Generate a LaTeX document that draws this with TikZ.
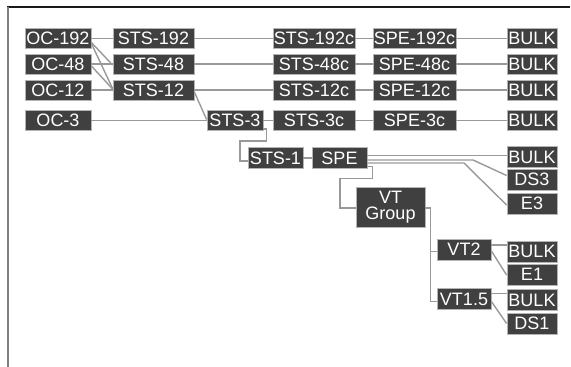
\documentclass[tikz,border=0pt]{standalone}
\usepackage{fontspec}
\setmainfont{Liberation Sans}
\definecolor{boxfill}{HTML}{404040}
\definecolor{boxedge}{HTML}{B4B4B4}
\definecolor{wire}{HTML}{999999}
\definecolor{leftrule}{HTML}{808080}
\definecolor{toprule}{HTML}{1A1A1A}
\tikzset{
  blk/.style={draw=boxedge, fill=boxfill, line width=0.8pt, text=white,
    font=\fontsize{18}{18}\selectfont, inner sep=0pt,
    text height=12.9pt, text depth=0pt, minimum height=20pt},
  blkr/.style={blk, minimum height=21pt},
  grp/.style={draw=boxedge, fill=boxfill, line width=0.8pt, text=white,
    font=\fontsize{18}{16}\selectfont, inner sep=0pt, align=center,
    minimum width=69pt, minimum height=40pt},
  wire/.style={draw=wire, line width=1.4pt},
}
\begin{document}
\begin{tikzpicture}[x=1pt,y=-1pt]
\useasboundingbox (0,0) rectangle (571,367);
% frame
\draw[toprule, line width=1.3pt] (7,7) -- (570,7);
\draw[leftrule, line width=2pt] (7.5,6.5) -- (7.5,367);

% column 1
\node[blk, minimum width=66pt] (oc192) at (58,38.5) {OC-192};
\node[blk, minimum width=66pt] (oc48) at (58,64) {OC-48};
\node[blk, minimum width=66pt] (oc12) at (58,90) {OC-12};
\node[blk, minimum width=66pt] (oc3) at (58,120.5) {OC-3};
% column 2
\node[blk, minimum width=81pt] (sts192) at (153.5,38.5) {STS-192};
\node[blk, minimum width=81pt] (sts48) at (153.5,64) {STS-48};
\node[blk, minimum width=81pt] (sts12) at (153.5,90) {STS-12};
\node[blk, minimum width=56pt] (sts3) at (235,120.5) {STS-3};
% column 3
\node[blk, minimum width=82pt] (sts192c) at (314,38.5) {STS-192c};
\node[blk, minimum width=82pt] (sts48c) at (314,64) {STS-48c};
\node[blk, minimum width=82pt] (sts12c) at (314,90) {STS-12c};
\node[blk, minimum width=82pt] (sts3c) at (314,120.5) {STS-3c};
% column 4
\node[blk, minimum width=83pt] (spe192c) at (414.5,38.5) {SPE-192c};
\node[blk, minimum width=83pt] (spe48c) at (414.5,64) {SPE-48c};
\node[blk, minimum width=83pt] (spe12c) at (414.5,90) {SPE-12c};
\node[blk, minimum width=83pt] (spe3c) at (414.5,120.5) {SPE-3c};
% bulk column
\node[blk, minimum width=50pt] (b1) at (532,38.5) {BULK};
\node[blk, minimum width=50pt] (b2) at (532,64) {BULK};
\node[blk, minimum width=50pt] (b3) at (532,90) {BULK};
\node[blk, minimum width=50pt] (b4) at (532,120.5) {BULK};
% lower part
\node[blkr, minimum width=55pt] (sts1) at (275.5,158) {STS-1};
\node[blkr, minimum width=55pt] (spe) at (339.5,158) {SPE};
\node[blkr, minimum width=50pt] (b5) at (532,157) {BULK};
\node[blkr, minimum width=50pt] (ds3) at (532,179.5) {DS3};
\node[blkr, minimum width=50pt] (e3) at (532,203.5) {E3};
\node[grp] (vtg) at (390.5,207) {VT\\Group};
\node[blkr, minimum width=54pt] (vt2) at (464,249.5) {VT2};
\node[blkr, minimum width=54pt] (vt15) at (464,299) {VT1.5};
\node[blkr, minimum width=50pt] (b6) at (532,251.5) {BULK};
\node[blkr, minimum width=50pt] (e1) at (532,274.5) {E1};
\node[blkr, minimum width=50pt] (b7) at (532,300) {BULK};
\node[blkr, minimum width=50pt] (ds1) at (532,323.5) {DS1};

% connectors: OC -> STS
\draw[wire] (oc192.east) -- (sts192.west);
\draw[wire] ([yshift=-4pt]oc192.east) -- ([yshift=-1pt]sts48.west);
\draw[wire] ([yshift=-5pt]oc192.east) -- ([yshift=1.5pt]sts12.west);
\draw[wire] (oc48.east) -- (sts48.west);
\draw[wire] ([yshift=-2pt]oc48.east) -- ([yshift=1pt]sts12.west);
\draw[wire] (oc12.east) -- (sts12.west);
\draw[wire] (oc3.east) -- (sts3.west);
\draw[wire] ([yshift=-2pt]sts12.east) -- ([yshift=1pt]sts3.west);
% rows
\draw[wire] (sts192.east) -- (sts192c.west);
\draw[wire] (sts48.east) -- (sts48c.west);
\draw[wire] (sts12.east) -- (sts12c.west);
\draw[wire] (sts3.east) -- (sts3c.west);
\draw[wire] (sts192c.east) -- (spe192c.west);
\draw[wire] (sts48c.east) -- (spe48c.west);
\draw[wire] (sts12c.east) -- (spe12c.west);
\draw[wire] (sts3c.east) -- (spe3c.west);
\draw[wire] (spe192c.east) -- (b1.west);
\draw[wire] (spe48c.east) -- (b2.west);
\draw[wire] (spe12c.east) -- (b3.west);
\draw[wire] (spe3c.east) -- (b4.west);
% STS-3 -> STS-1
\draw[wire] ([yshift=-8.5pt]sts3.east) -- ++(3,0) |- (240,141) |- ([yshift=-3pt]sts1.west);
\draw[wire] (sts1.east) -- (spe.west);
% SPE outputs
\draw[wire] ([yshift=2.5pt]spe.east) coordinate (s1) -- (s1 -| b5.west);
\draw[wire] ([yshift=-2pt]spe.east) -- (473,160) -- ([yshift=4pt]ds3.west);
\draw[wire] ([yshift=-5pt]spe.east) -- (464,163) -- ([yshift=-1.5pt]e3.west);
\draw[wire] ([yshift=-8.5pt]spe.east) -- ++(5,0) |- (340,178.5) |- ([yshift=-1pt]vtg.west);
% VT group
\draw[wire] ([yshift=-1pt]vtg.east) -- ++(5,0) coordinate (vj) |- ([yshift=-2pt]vt2.west);
\draw[wire] (vj) |- ([yshift=-2.5pt]vt15.west);
\draw[wire] ([yshift=4.5pt]vt2.east) coordinate (s2) -- (s2 -| b6.west);
\draw[wire] ([yshift=-1.5pt]vt2.east) -- ([yshift=-0.5pt]e1.west);
\draw[wire] ([yshift=5.5pt]vt15.east) coordinate (s3) -- (s3 -| b7.west);
\draw[wire] ([yshift=-2.5pt]vt15.east) -- (ds1.west);
\end{tikzpicture}
\end{document}
